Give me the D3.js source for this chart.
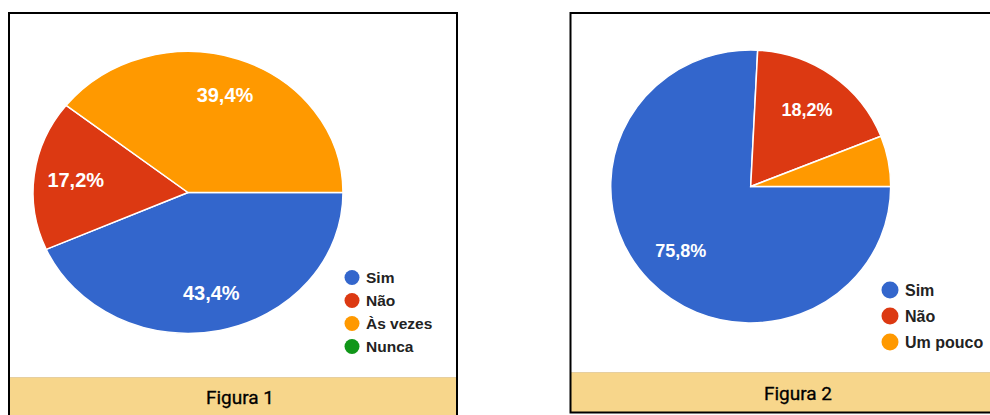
<!DOCTYPE html>
<html>
<head>
<meta charset="utf-8">
<script src="https://cdn.jsdelivr.net/npm/d3@7"></script>
<style>
  html, body { margin: 0; padding: 0; background: #ffffff; }
  svg { display: block; }
</style>
</head>
<body>
<svg id="chart" width="990" height="415"></svg>
<script>
// ---- Data ----
const fig1Categories = ["Sim", "Não", "Às vezes", "Nunca"];
const fig1Values = [43.4, 17.2, 39.4, 0];
const fig1Caption = "Figura 1";

const fig2Categories = ["Sim", "Não", "Um pouco"];
const fig2Values = [75.8, 18.2, 6.0];
const fig2Caption = "Figura 2";

const sliceColors = ["#3366cc", "#dc3912", "#ff9900", "#109618"];

// ---- Drawing ----
const svg = d3.select("#chart");

function fmt(v) { return v.toFixed(1).replace(".", ",") + "%"; }

function panel(cfg) {
  const g = svg.append("g");
  // caption bar
  g.append("rect")
    .attr("x", cfg.x0).attr("y", cfg.capTop)
    .attr("width", cfg.x1 - cfg.x0).attr("height", cfg.capBottom - cfg.capTop)
    .attr("fill", "#f7d68b");
  g.append("line")
    .attr("x1", cfg.x0).attr("x2", cfg.x1)
    .attr("y1", cfg.capTop + 0.5).attr("y2", cfg.capTop + 0.5)
    .attr("stroke", "#e6cfa0").attr("stroke-width", 1);
  g.append("text")
    .attr("x", cfg.capX).attr("y", cfg.capY)
    .attr("text-anchor", "middle").attr("dominant-baseline", "central")
    .attr("font-family", "Roboto, 'Liberation Sans', sans-serif")
    .attr("font-size", 19).attr("fill", "#000")
    .attr("stroke", "#000").attr("stroke-width", 0.3)
    .text(cfg.caption);

  // border
  g.append("path")
    .attr("d", cfg.borderPath)
    .attr("fill", "none").attr("stroke", "#000").attr("stroke-width", 2);

  // pie
  const color = d3.scaleOrdinal().domain(cfg.categories).range(sliceColors);
  const pie = d3.pie().sort(null).value(d => d.v)
    .startAngle(Math.PI / 2).endAngle(Math.PI / 2 + 2 * Math.PI);
  const data = cfg.categories.map((c, i) => ({ c, v: cfg.values[i] }));
  const arcs = pie(data);
  const arc = d3.arc().innerRadius(0).outerRadius(1);
  const pg = g.append("g")
    .attr("transform", `translate(${cfg.cx},${cfg.cy}) scale(${cfg.rx},${cfg.ry})`);
  pg.selectAll("path").data(arcs.filter(d => d.data.v > 0)).join("path")
    .attr("d", arc)
    .attr("fill", d => color(d.data.c))
    .attr("stroke", "#ffffff").attr("stroke-width", 1.5)
    .attr("vector-effect", "non-scaling-stroke");

  // labels
  const labelArc = d3.arc().innerRadius(cfg.labelR).outerRadius(cfg.labelR);
  g.selectAll("text.lbl").data(arcs.filter(d => d.data.v >= 10)).join("text")
    .attr("class", "lbl")
    .attr("x", d => cfg.cx + labelArc.centroid(d)[0] * cfg.rx)
    .attr("y", d => cfg.cy + labelArc.centroid(d)[1] * cfg.ry)
    .attr("text-anchor", "middle").attr("dominant-baseline", "central")
    .attr("font-family", "'Liberation Sans', Arial, sans-serif")
    .attr("font-weight", "bold").attr("font-size", cfg.labelSize)
    .attr("fill", "#ffffff")
    .text(d => fmt(d.data.v));

  // legend
  const ly = d3.scalePoint().domain(cfg.categories)
    .range([cfg.legY0, cfg.legY0 + cfg.legStep * (cfg.categories.length - 1)]);
  const lg = g.append("g");
  const items = lg.selectAll("g").data(cfg.categories).join("g")
    .attr("transform", c => `translate(${cfg.legX},${ly(c)})`);
  items.append("circle").attr("r", cfg.legR).attr("fill", c => color(c));
  items.append("text")
    .attr("x", cfg.legTextDx).attr("y", 0)
    .attr("dominant-baseline", "central")
    .attr("font-family", "'Liberation Sans', Arial, sans-serif")
    .attr("font-weight", "bold").attr("font-size", cfg.legSize)
    .attr("fill", "#222")
    .text(c => c);
}

panel({
  categories: fig1Categories, values: fig1Values, caption: fig1Caption,
  x0: 9, x1: 457, capTop: 377, capBottom: 415, capX: 240, capY: 397,
  borderPath: "M9,416 L9,13 L457,13 L457,416",
  cx: 188, cy: 192.5, rx: 155, ry: 141, labelR: 0.73, labelSize: 20,
  legX: 352, legY0: 277.5, legStep: 23, legR: 7.5, legTextDx: 14, legSize: 15.5
});

panel({
  categories: fig2Categories, values: fig2Values, caption: fig2Caption,
  x0: 571, x1: 992, capTop: 372, capBottom: 412, capX: 798, capY: 393,
  borderPath: "M992,13 L570.5,13 L570.5,412.5 L992,412.5",
  cx: 750.7, cy: 186.5, rx: 140, ry: 136.5, labelR: 0.69, labelSize: 18,
  legX: 890, legY0: 290, legStep: 26, legR: 8.5, legTextDx: 15, legSize: 16
});
</script>
</body>
</html>
